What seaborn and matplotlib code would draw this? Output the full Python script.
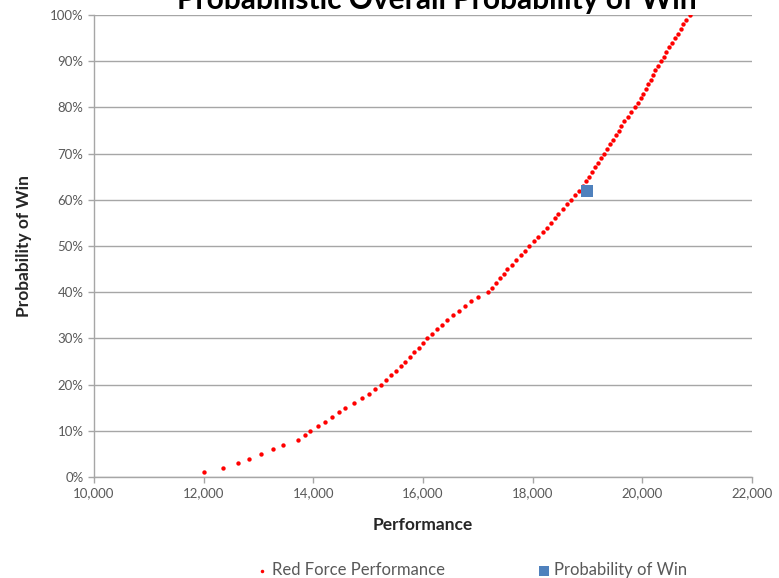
import pandas as pd
import matplotlib
matplotlib.use("Agg")
import matplotlib.pyplot as plt
import seaborn as sns
from matplotlib.ticker import FuncFormatter, MultipleLocator

# --- data ---
win_pct = list(range(1, 101))
red_perf = [
    12000, 12350, 12620, 12830, 13050, 13260, 13450, 13720, 13850, 13930,
    14080, 14210, 14340, 14460, 14570, 14740, 14880, 15010, 15130, 15230,
    15330, 15420, 15510, 15590, 15670, 15760, 15840, 15920, 16000, 16070,
    16170, 16260, 16350, 16440, 16550, 16660, 16770, 16880, 17000, 17180,
    17260, 17330, 17400, 17470, 17540, 17620, 17700, 17780, 17860, 17940,
    18020, 18100, 18180, 18260, 18330, 18400, 18470, 18550, 18620, 18700,
    18770, 18850, 18920, 18970, 19020, 19080, 19130, 19190, 19240, 19300,
    19360, 19410, 19470, 19520, 19570, 19620, 19660, 19730, 19790, 19860,
    19920, 19970, 20020, 20060, 20110, 20150, 20200, 20240, 20290, 20340,
    20390, 20430, 20490, 20540, 20600, 20650, 20700, 20750, 20800, 20870,
]
win_point_perf = [19000]
win_point_pct = [62]

red_df = pd.DataFrame({"Performance": red_perf, "Win": win_pct})
pt_df = pd.DataFrame({"Performance": win_point_perf, "Win": win_point_pct})

# --- style ---
sns.set_style("white")
plt.rcParams["font.family"] = ["Lato", "DejaVu Sans"]

fig = plt.figure(figsize=(7.79, 5.78), dpi=100)
ax = fig.add_axes([0.1207, 0.1747, 0.8446, 0.7993])

sns.scatterplot(data=red_df, x="Performance", y="Win", ax=ax, color="#ff0000",
                marker="o", s=10, linewidth=0, label="Red Force Performance")
sns.scatterplot(data=pt_df, x="Performance", y="Win", ax=ax, color="#4f81bd",
                marker="s", s=70, linewidth=0, label="Probability of Win")

ax.set_xlim(10000, 22000)
ax.set_ylim(0, 100)
ax.xaxis.set_major_locator(MultipleLocator(2000))
ax.yaxis.set_major_locator(MultipleLocator(10))
ax.xaxis.set_major_formatter(FuncFormatter(lambda v, p: f"{int(v):,}"))
ax.yaxis.set_major_formatter(FuncFormatter(lambda v, p: f"{int(v)}%"))

ax.grid(axis="y", color="#a6a6a6", linewidth=1)
ax.set_axisbelow(True)
for side in ["top", "right"]:
    ax.spines[side].set_visible(False)
for side in ["left", "bottom"]:
    ax.spines[side].set_color("#a6a6a6")
    ax.spines[side].set_linewidth(1)
ax.tick_params(axis="both", colors="#a6a6a6", length=4, width=1,
               labelcolor="#595959", labelsize=9.5, direction="out")
ax.tick_params(axis="both", bottom=True, left=True)

ax.set_xlabel("Performance", fontsize=12.5, fontweight="bold", color="#262626", labelpad=13)
ax.set_ylabel("Probability of Win", fontsize=12.5, fontweight="bold", color="#262626", labelpad=13)

# title sits partly above the top edge, as in the reference
fig.text(0.561, 0.985, "Probabilistic Overall Probability of Win", ha="center", va="baseline",
         fontsize=21.5, fontweight="bold", color="#000000")

ax.legend(loc="center", bbox_to_anchor=(0.605, 0.014), bbox_transform=fig.transFigure,
          ncol=2, frameon=False, fontsize=12, columnspacing=5.5, handlelength=0.8,
          handletextpad=0.2, markerscale=0.8, labelcolor="#595959")

fig.savefig("out.png", dpi=100)
